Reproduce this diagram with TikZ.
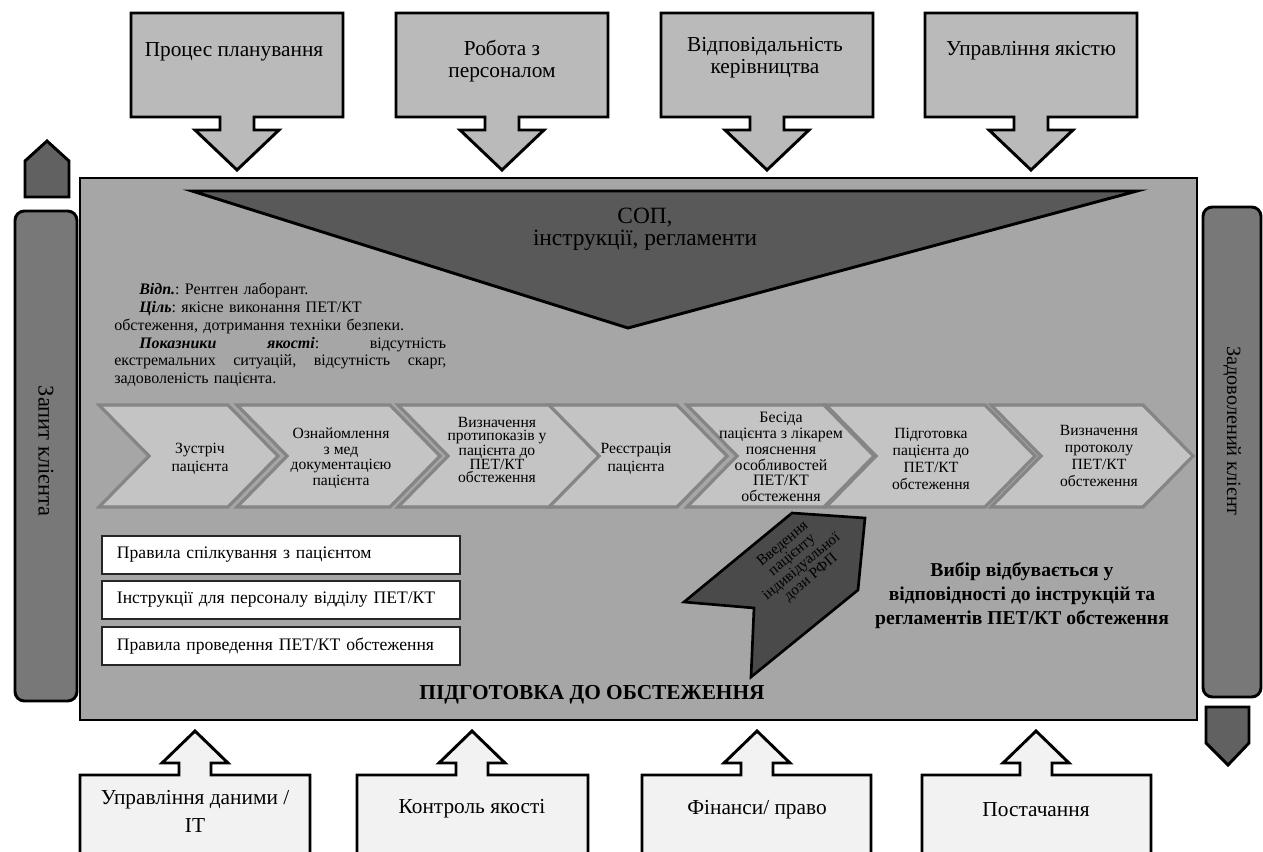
\documentclass[tikz,border=0pt]{standalone}
\usepackage{fontspec}
\setmainfont{Liberation Serif}
\usepackage{xcolor}

\begin{document}
\begin{tikzpicture}[x=0.75pt, y=-0.75pt,
    blk/.style={draw=black, line width=2.2pt},
    chev/.style={fill=chevgray, draw=chevline, line width=2.4pt},
    lbl/.style={font=\fontsize{16}{16.5}\selectfont, align=center, inner sep=0pt},
    steptext/.style={align=center, inner sep=0pt},
    rulebox/.style={draw=black!85, line width=1.4pt, fill=white, anchor=north west,
      minimum width=268.5pt, minimum height=28.5pt, text width=246pt, inner xsep=11pt,
      align=left, font=\fontsize{13.2}{15}\selectfont}]
    \colorlet{topgray}{black!27}\colorlet{maingray}{black!35}\colorlet{trigray}{black!65}
    \colorlet{bargray}{black!53}\colorlet{tipgray}{black!62}\colorlet{chevgray}{black!23}
    \colorlet{chevline}{black!48}\colorlet{dosegray}{black!71}\colorlet{botgray}{black!5}
    \useasboundingbox (0,0) rectangle (1263,852);
    \clip (0,0) rectangle (1263,852);
    \draw[blk, fill=topgray] (131,13) -- (343,13) -- (343,117) -- (254,117) -- (254,130) -- (279,130) -- (237,170) -- (195,130) -- (220,130) -- (220,117) -- (131,117) -- cycle;
    \draw[blk, fill=topgray] (396,13) -- (608,13) -- (608,117) -- (519,117) -- (519,130) -- (544,130) -- (502,170) -- (460,130) -- (485,130) -- (485,117) -- (396,117) -- cycle;
    \draw[blk, fill=topgray] (661,13) -- (873,13) -- (873,117) -- (784,117) -- (784,130) -- (809,130) -- (767,170) -- (725,130) -- (750,130) -- (750,117) -- (661,117) -- cycle;
    \draw[blk, fill=topgray] (925,13) -- (1137,13) -- (1137,117) -- (1048,117) -- (1048,130) -- (1073,130) -- (1031,170) -- (989,130) -- (1014,130) -- (1014,117) -- (925,117) -- cycle;
    \node[lbl] (plan) at (234,52) {Процес планування};
    \node[lbl] (staff) at (502,61) {Робота з\\персоналом};
    \node[lbl] (duty) at (765,58) {Відповідальність\\керівництва};
    \node[lbl] (quality) at (1031,51) {Управління якістю};
    \draw[blk, fill=maingray] (80,178) rectangle (1197,720);
    \draw[blk, fill=trigray] (192,191) -- (1137,191) -- (628,328) -- cycle;
    \node[lbl, font=\fontsize{17.5}{16.5}\selectfont] (sop) at (645,229) {СОП,\\інструкції, регламенти};
    \node[anchor=north west, inner sep=0pt, text width=249pt, align=left,
      font=\fontsize{12}{13.35}\selectfont\frenchspacing] (resp) at (114,283) {%
      \hspace*{18.75pt}\textbf{\textit{Відп.}}: Рентген лаборант.\\
      \hspace*{18.75pt}\textbf{\textit{Ціль}}: якісне виконання ПЕТ/КТ\\
      обстеження, дотримання техніки безпеки.\\
      \makebox[249pt][s]{\hspace*{18.75pt}\textbf{\textit{Показники}}\hfill\textbf{\textit{якості}}:\hfill відсутність}\\
      \makebox[249pt][s]{екстремальних\hfill ситуацій,\hfill відсутність\hfill скарг,}\\
      задоволеність пацієнта.};
    \draw[chev] (99,405) -- (228,405) -- (278,456) -- (228,507) -- (99,507) -- (149,456) -- cycle;
    \draw[chev] (237,405) -- (390,405) -- (440,456) -- (390,507) -- (237,507) -- (287,456) -- cycle;
    \draw[chev] (398,405) -- (551,405) -- (601,456) -- (551,507) -- (398,507) -- (448,456) -- cycle;
    \draw[chev] (549,405) -- (677,405) -- (727,456) -- (677,507) -- (549,507) -- (599,456) -- cycle;
    \draw[chev] (687,405) -- (824,405) -- (874,456) -- (824,507) -- (687,507) -- (737,456) -- cycle;
    \draw[chev] (826,405) -- (985,405) -- (1035,456) -- (985,507) -- (826,507) -- (876,456) -- cycle;
    \draw[chev] (991,405) -- (1143,405) -- (1193,456) -- (1143,507) -- (991,507) -- (1041,456) -- cycle;
    \node[steptext, font=\fontsize{11.7}{13.5}\selectfont] (meet) at (200,459) {Зустріч\\пацієнта};
    \node[steptext, font=\fontsize{11.7}{11.6}\selectfont] (docs) at (341,458) {Ознайомлення\\з мед\\документацією\\пацієнта};
    \node[steptext, font=\fontsize{11.7}{10}\selectfont] (contra) at (497,450) {Визначення\\протипоказів у\\пацієнта до\\ПЕТ/КТ\\обстеження};
    \node[steptext, font=\fontsize{11.7}{13.5}\selectfont] (reg) at (636,459) {Реєстрація\\пацієнта};
    \node[steptext, font=\fontsize{11.9}{11.8}\selectfont] (talk) at (781,457) {Бесіда\\пацієнта з лікарем\\пояснення\\особливостей\\ПЕТ/КТ\\обстеження};
    \node[steptext, font=\fontsize{11.7}{12.7}\selectfont] (ready) at (931,459) {Підготовка\\пацієнта до\\ПЕТ/КТ\\обстеження};
    \node[steptext, font=\fontsize{11.7}{12.7}\selectfont] (proto) at (1099,456) {Визначення\\протоколу\\ПЕТ/КТ\\обстеження};
    \node[rulebox] (rule1) at (101,535) {Правила спілкування з пацієнтом};
    \node[rulebox] (rule2) at (101,580) {Інструкції для персоналу відділу ПЕТ/КТ};
    \node[rulebox] (rule3) at (101,626) {Правила проведення ПЕТ/КТ обстеження};
    \node[font=\bfseries\fontsize{16}{18}\selectfont, inner sep=0pt] (prep) at (592,695) {ПІДГОТОВКА ДО ОБСТЕЖЕННЯ};
    \draw[line width=2pt, fill=dosegray] (684,602) -- (792,513) -- (865,518) -- (858,590) -- (751,677) -- (754,608) -- cycle;
    \node[steptext, rotate=40, font=\fontsize{11.4}{11}\selectfont] (dose) at (797,561) {Введення\\пацієнту\\індивідуальної\\дози РФП};
    \node[steptext, font=\bfseries\fontsize{14.7}{18}\selectfont] (choice) at (1022,596) {Вибір відбувається у\\відповідності до інструкцій та\\регламентів ПЕТ/КТ обстеження};
    \draw[blk, fill=bargray, rounded corners=7pt] (15,211) rectangle (77,701);
    \node[lbl, rotate=-90, font=\fontsize{16.8}{18}\selectfont] (request) at (46,451) {Запит клієнта};
    \draw[blk, fill=tipgray] (25,197) -- (25,161) -- (47,141) -- (69,161) -- (69,197) -- cycle;
    \draw[blk, fill=bargray, rounded corners=7pt] (1203,207) rectangle (1261,697);
    \node[lbl, rotate=-90, font=\fontsize{15.2}{18}\selectfont] (client) at (1232,431) {Задоволений клієнт};
    \draw[blk, fill=tipgray] (1206,707) -- (1249,707) -- (1249,743) -- (1228,765) -- (1206,743) -- cycle;
    \draw[blk, fill=botgray] (80,860) -- (80,775) -- (179,775) -- (179,763) -- (162,763) -- (195,731) -- (228,763) -- (211,763) -- (211,775) -- (310,775) -- (310,860);
    \draw[blk, fill=botgray] (357,860) -- (357,775) -- (456,775) -- (456,763) -- (439,763) -- (472,731) -- (505,763) -- (488,763) -- (488,775) -- (588,775) -- (588,860);
    \draw[blk, fill=botgray] (642,860) -- (642,775) -- (741,775) -- (741,763) -- (724,763) -- (757,731) -- (790,763) -- (773,763) -- (773,775) -- (871,775) -- (871,860);
    \draw[blk, fill=botgray] (922,860) -- (922,775) -- (1020,775) -- (1020,763) -- (1003,763) -- (1036,731) -- (1069,763) -- (1052,763) -- (1052,775) -- (1151,775) -- (1151,860);
    \node[lbl, font=\fontsize{16}{21}\selectfont] (data) at (195,811) {Управління даними /\\IT};
    \node[lbl] (control) at (472,809) {Контроль якості};
    \node[lbl] (finance) at (757,810) {Фінанси/ право};
    \node[lbl] (supply) at (1036,810) {Постачання};
\end{tikzpicture}
\end{document}
